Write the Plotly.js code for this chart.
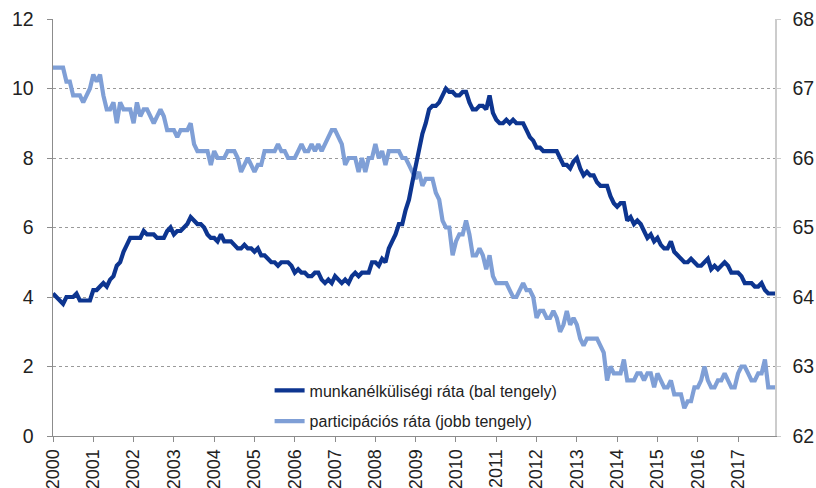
<!DOCTYPE html>
<html>
<head>
<meta charset="utf-8">
<script src="https://cdn.plot.ly/plotly-3.0.1.min.js"></script>
<style>html,body{margin:0;padding:0;background:#fff;}#chart{width:816px;height:488px;}</style>
</head>
<body>
<div id="chart"></div>
<script>
// Monthly data, Jan 2000 - Dec 2017
const years = [2000,2001,2002,2003,2004,2005,2006,2007,2008,2009,2010,2011,2012,2013,2014,2015,2016,2017];
const tickLabels = years.map(String);

// munkanélküliségi ráta (bal tengely), %
const unemployment = [
  4.1,4.0,3.9,3.8,4.0,4.0,4.0,4.1,3.9,3.9,3.9,3.9,
  4.2,4.2,4.3,4.4,4.3,4.5,4.6,4.9,5.0,5.3,5.5,5.7,
  5.7,5.7,5.7,5.9,5.8,5.8,5.8,5.7,5.7,5.7,5.9,6.0,
  5.8,5.9,5.9,6.0,6.1,6.3,6.2,6.1,6.1,6.0,5.8,5.7,
  5.7,5.6,5.8,5.6,5.6,5.6,5.5,5.4,5.4,5.5,5.4,5.4,
  5.3,5.4,5.2,5.2,5.1,5.0,5.0,4.9,5.0,5.0,5.0,4.9,
  4.7,4.8,4.7,4.7,4.6,4.6,4.7,4.7,4.5,4.4,4.5,4.4,
  4.6,4.5,4.4,4.5,4.4,4.6,4.7,4.6,4.7,4.7,4.7,5.0,
  5.0,4.9,5.1,5.0,5.4,5.6,5.8,6.1,6.1,6.5,6.8,7.3,
  7.8,8.3,8.7,9.0,9.4,9.5,9.5,9.6,9.8,10.0,9.9,9.9,
  9.8,9.8,9.9,9.9,9.6,9.4,9.4,9.5,9.5,9.4,9.8,9.3,
  9.1,9.0,9.0,9.1,9.0,9.1,9.0,9.0,9.0,8.8,8.6,8.5,
  8.3,8.3,8.2,8.2,8.2,8.2,8.2,8.0,7.8,7.8,7.7,7.9,
  8.0,7.7,7.5,7.6,7.5,7.5,7.3,7.2,7.2,7.2,6.9,6.7,
  6.6,6.7,6.7,6.2,6.3,6.1,6.2,6.1,5.9,5.7,5.8,5.6,
  5.7,5.5,5.4,5.4,5.6,5.3,5.2,5.1,5.0,5.0,5.1,5.0,
  4.9,4.9,5.0,5.1,4.8,4.9,4.8,4.9,5.0,4.9,4.7,4.7,
  4.7,4.6,4.4,4.4,4.4,4.3,4.3,4.4,4.2,4.1,4.1,4.1
];

// participációs ráta (jobb tengely), %
const participation = [
  67.3,67.3,67.3,67.3,67.1,67.1,66.9,66.9,66.9,66.8,66.9,67.0,
  67.2,67.1,67.2,66.9,66.7,66.7,66.8,66.5,66.8,66.7,66.7,66.7,
  66.5,66.8,66.6,66.7,66.7,66.6,66.5,66.6,66.7,66.6,66.4,66.4,
  66.4,66.3,66.4,66.4,66.4,66.5,66.2,66.1,66.1,66.1,66.1,65.9,
  66.1,66.0,66.0,66.0,66.1,66.1,66.1,66.0,65.8,65.9,66.0,65.9,
  65.8,65.9,65.9,66.1,66.1,66.1,66.1,66.2,66.1,66.1,66.0,66.0,
  66.0,66.1,66.2,66.1,66.1,66.2,66.1,66.2,66.1,66.2,66.3,66.4,
  66.4,66.3,66.2,65.9,66.0,66.0,66.0,65.8,66.0,65.8,66.0,66.0,
  66.2,66.0,66.1,65.9,66.1,66.1,66.1,66.1,66.0,66.0,65.9,65.8,
  65.7,65.8,65.6,65.7,65.7,65.7,65.5,65.4,65.1,65.0,65.0,64.6,
  64.8,64.9,64.9,65.1,64.9,64.6,64.6,64.7,64.6,64.4,64.6,64.3,
  64.2,64.2,64.2,64.2,64.1,64.0,64.0,64.1,64.2,64.1,64.1,64.0,
  63.7,63.8,63.8,63.7,63.7,63.8,63.7,63.5,63.6,63.8,63.6,63.7,
  63.6,63.4,63.3,63.4,63.4,63.4,63.4,63.3,63.2,62.8,63.0,62.9,
  62.9,62.9,63.1,62.8,62.8,62.8,62.9,62.9,62.8,62.9,62.9,62.7,
  62.9,62.8,62.7,62.7,62.8,62.6,62.6,62.6,62.4,62.5,62.5,62.7,
  62.7,62.8,63.0,62.8,62.7,62.7,62.8,62.8,62.9,62.8,62.7,62.7,
  62.9,63.0,63.0,62.9,62.8,62.8,62.9,62.9,63.1,62.7,62.7,62.7
];

const seriesNames = ['munkanélküliségi ráta (bal tengely)', 'participációs ráta (jobb tengely)'];

const months = [];
years.forEach(y => { for (let m = 0; m < 12; m++) months.push(y + m / 12); });

const font = 'Liberation Sans, Arial, sans-serif';

const traces = [
  {
    x: months, y: unemployment, yaxis: 'y2', type: 'scatter', mode: 'lines',
    name: seriesNames[0], legendgroup: 'a',
    line: {color: '#0d3590', width: 4.2}
  },
  {
    x: months, y: participation, yaxis: 'y', type: 'scatter', mode: 'lines',
    name: seriesNames[1], legendgroup: 'b',
    line: {color: '#7f9fd6', width: 4.2}
  }
];

const layout = {
  width: 816, height: 488,
  margin: {l: 53, r: 41, t: 19, b: 52},
  paper_bgcolor: '#ffffff', plot_bgcolor: '#ffffff',
  font: {family: font, size: 18, color: '#222'},
  showlegend: true,
  legend: {
    x: 0.300, xanchor: 'left', y: 0.15, yanchor: 'top',
    bgcolor: 'rgba(0,0,0,0)', font: {family: font, size: 16, color: '#222'},
    traceorder: 'grouped', tracegroupgap: 7
  },
  xaxis: {
    range: [2000, 2017 + 11 / 12],
    tickmode: 'array', tickvals: years, ticktext: tickLabels,
    tickangle: -90, ticks: 'outside', ticklen: 5, tickcolor: '#8c8c8c',
    showline: true, linecolor: '#8c8c8c', linewidth: 1,
    showgrid: false, zeroline: false,
    tickfont: {family: font, size: 18, color: '#222'}
  },
  yaxis: {
    range: [62, 68], dtick: 1, side: 'right',
    ticks: 'outside', ticklen: 4, tickcolor: '#cccccc',
    ticklabelstandoff: 8,
    showline: true, linecolor: '#cccccc', linewidth: 1.5,
    showgrid: true, gridcolor: '#9a9a9a', griddash: 'dot', gridwidth: 1,
    zeroline: false,
    tickfont: {family: font, size: 19.5, color: '#222'}
  },
  yaxis2: {
    range: [0, 12], dtick: 2, overlaying: 'y', side: 'left',
    ticks: 'outside', ticklen: 5, tickcolor: '#8c8c8c',
    ticklabelstandoff: 9,
    showline: true, linecolor: '#8c8c8c', linewidth: 1.5,
    showgrid: false, zeroline: false,
    tickfont: {family: font, size: 19.5, color: '#222'}
  },
  annotations: [{
    xref: 'paper', yref: 'paper', x: -0.05, y: -0.118, xanchor: 'left', yanchor: 'top',
    text: 'Forrás: BLS', showarrow: false,
    font: {family: font, size: 12, color: '#555'}
  }]
};

Plotly.newPlot('chart', traces, layout, {staticPlot: true, displayModeBar: false});
</script>
</body>
</html>
